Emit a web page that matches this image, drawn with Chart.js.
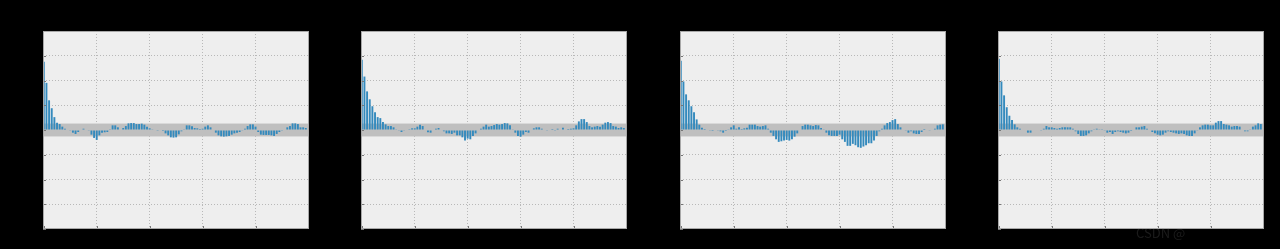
<!DOCTYPE html>
<html>
<head>
<meta charset="utf-8">
<script src="https://cdn.jsdelivr.net/npm/chart.js@4/dist/chart.umd.min.js"></script>
<style>
  html, body { margin: 0; padding: 0; background: #000; }
  #wrap { position: relative; width: 1280px; height: 249px; overflow: hidden; background: #000; }
  #wrap canvas { position: absolute; top: 0; }
  #mark { position: absolute; left: 1136px; top: 223px; font: 13px "Noto Sans CJK SC", "DejaVu Sans", sans-serif;
          color: rgba(150,150,150,0.18); white-space: nowrap; }
</style>
</head>
<body>
<div id="wrap">
  <canvas id="c1" width="316" height="249" style="left:3px"></canvas>
  <canvas id="c2" width="316" height="249" style="left:321px"></canvas>
  <canvas id="c3" width="316" height="249" style="left:640px"></canvas>
  <canvas id="c4" width="316" height="249" style="left:958px"></canvas>
  <div id="mark">CSDN @</div>
</div>
<script>
// lags 0..99 (lag 0 bar sits on the left limit)
const lags = Array.from({length: 100}, (_, i) => i);
const xTicks = [0, 20, 40, 60, 80, 100];
const yTicks = [-1, -0.75, -0.5, -0.25, 0, 0.25, 0.5, 0.75, 1];
const confLimit = 0.065;

const acf1 = [
  0.69, 0.476, 0.30, 0.22, 0.13, 0.074, 0.06, 0.034, 0.013, -0.005,
  -0.007, -0.027, -0.04, -0.02, 0.0, 0.013, 0.0, -0.003, -0.047, -0.08,
  -0.10, -0.054, -0.027, -0.023, -0.02, 0.007, 0.047, 0.047, 0.027, 0.0,
  0.02, 0.04, 0.067, 0.07, 0.07, 0.06, 0.06, 0.064, 0.054, 0.034,
  0.017, 0.003, 0.0, -0.002, 0.0, -0.01, -0.034, -0.054, -0.074, -0.077,
  -0.074, -0.044, -0.013, 0.007, 0.047, 0.047, 0.037, 0.02, 0.017, 0.01,
  0.013, 0.034, 0.047, 0.027, 0.0, -0.027, -0.054, -0.064, -0.067, -0.064,
  -0.06, -0.047, -0.034, -0.027, -0.02, -0.007, 0.013, 0.04, 0.057, 0.057,
  0.034, -0.02, -0.047, -0.05, -0.05, -0.05, -0.054, -0.06, -0.04, -0.02,
  -0.007, 0.0, 0.027, 0.04, 0.067, 0.067, 0.06, 0.027, 0.027, 0.02
];
const acf2 = [
  0.71, 0.54, 0.39, 0.31, 0.24, 0.18, 0.13, 0.12, 0.08, 0.057,
  0.04, 0.04, 0.027, 0.007, -0.007, -0.02, -0.007, 0.0, 0.002, 0.017,
  0.017, 0.034, 0.054, 0.04, 0.0, -0.023, -0.027, 0.0, 0.013, 0.02,
  0.0, -0.013, -0.034, -0.034, -0.04, -0.027, -0.054, -0.054, -0.074, -0.107,
  -0.087, -0.094, -0.06, -0.034, 0.0, 0.013, 0.034, 0.054, 0.034, 0.04,
  0.05, 0.06, 0.054, 0.06, 0.07, 0.067, 0.047, 0.007, -0.027, -0.06,
  -0.067, -0.047, -0.02, -0.027, 0.0, 0.017, 0.027, 0.027, 0.013, 0.0,
  -0.003, 0.0, 0.01, -0.003, 0.013, 0.0, 0.023, 0.0, 0.01, 0.013,
  0.017, 0.047, 0.087, 0.11, 0.11, 0.08, 0.04, 0.027, 0.034, 0.04,
  0.034, 0.054, 0.074, 0.08, 0.07, 0.04, 0.034, 0.02, 0.027, 0.02
];
const acf3 = [
  0.70, 0.49, 0.36, 0.30, 0.24, 0.18, 0.107, 0.054, 0.023, 0.01,
  0.0, -0.007, -0.01, 0.0, -0.007, -0.013, -0.027, -0.01, 0.007, 0.027,
  0.047, 0.013, 0.027, 0.01, 0.017, 0.023, 0.054, 0.054, 0.054, 0.04,
  0.034, 0.04, 0.047, 0.013, -0.027, -0.06, -0.094, -0.12, -0.114, -0.107,
  -0.10, -0.107, -0.094, -0.067, -0.034, 0.0, 0.04, 0.054, 0.054, 0.047,
  0.04, 0.05, 0.047, 0.02, 0.007, -0.027, -0.054, -0.06, -0.06, -0.06,
  -0.047, -0.094, -0.12, -0.16, -0.16, -0.14, -0.154, -0.174, -0.18, -0.167,
  -0.154, -0.134, -0.134, -0.107, -0.06, -0.013, 0.013, 0.047, 0.07, 0.08,
  0.10, 0.11, 0.06, 0.027, 0.0, -0.007, -0.027, -0.013, -0.034, -0.04,
  -0.04, -0.02, 0.01, 0.0, -0.007, 0.0, 0.013, 0.047, 0.054, 0.057
];
const acf4 = [
  0.72, 0.49, 0.35, 0.23, 0.144, 0.10, 0.057, 0.027, 0.013, 0.0,
  0.0, -0.027, -0.027, 0.0, 0.0, 0.0, -0.003, 0.013, 0.04, 0.027,
  0.027, 0.02, 0.013, 0.02, 0.027, 0.027, 0.027, 0.027, 0.013, -0.013,
  -0.04, -0.06, -0.06, -0.054, -0.034, -0.013, 0.007, 0.013, 0.007, 0.007,
  -0.007, -0.027, -0.02, -0.04, -0.02, -0.013, -0.02, -0.027, -0.034, -0.027,
  -0.01, 0.0, 0.027, 0.027, 0.034, 0.04, 0.013, 0.0, -0.02, -0.034,
  -0.047, -0.054, -0.047, -0.027, -0.013, -0.02, -0.027, -0.034, -0.04, -0.034,
  -0.04, -0.054, -0.06, -0.06, -0.034, -0.007, 0.027, 0.047, 0.054, 0.054,
  0.047, 0.047, 0.074, 0.09, 0.09, 0.06, 0.054, 0.047, 0.034, 0.04,
  0.04, 0.034, 0.0, -0.013, -0.013, 0.007, 0.034, 0.047, 0.067, 0.06
];

// axes background, confidence band, frame and inner tick marks
const axesDeco = {
    id: 'axesDeco',
    beforeDraw(chart) {
        const {ctx, chartArea: a} = chart;
        ctx.save();
        ctx.fillStyle = '#eeeeee';
        ctx.fillRect(a.left, a.top, a.right - a.left, a.bottom - a.top);
        ctx.restore();
    },
    beforeDatasetsDraw(chart) {
        const {ctx, chartArea: a, scales} = chart;
        const y1 = scales.y.getPixelForValue(confLimit);
        const y2 = scales.y.getPixelForValue(-confLimit);
        ctx.save();
        ctx.fillStyle = '#bfbfbf';
        ctx.fillRect(a.left, y1, a.right - a.left, y2 - y1);
        ctx.restore();
    },
    afterDraw(chart) {
        const {ctx, chartArea: a, scales} = chart;
        ctx.save();
        ctx.strokeStyle = '#777777';
        ctx.lineWidth = 1;
        ctx.beginPath();
        yTicks.forEach(v => {
            const p = Math.round(scales.y.getPixelForValue(v)) + 0.5;
            ctx.moveTo(a.left, p); ctx.lineTo(a.left + 3, p);
        });
        xTicks.forEach(v => {
            const p = Math.round(scales.x.getPixelForValue(v)) + 0.5;
            if (p > a.right) return;
            ctx.moveTo(p, a.bottom); ctx.lineTo(p, a.bottom - 3);
        });
        ctx.stroke();
        ctx.strokeStyle = '#a8a8a8';
        ctx.strokeRect(a.left + 0.5, a.top + 0.5, a.right - a.left - 1, a.bottom - a.top - 1);
        ctx.restore();
    }
};

// edge grid lines are hidden under the frame
const innerGrid = (lo, hi) => c => (c.tick && (c.tick.value <= lo || c.tick.value >= hi)) ? 'rgba(0,0,0,0)' : '#b8b8b8';

function makeAcfChart(id, values) {
    const ctx = document.getElementById(id).getContext('2d');
    return new Chart(ctx, {
        type: 'bar',
        data: {
            datasets: [{
                data: lags.map((l, i) => ({x: l, y: values[i]})),
                backgroundColor: '#348ABD',
                borderWidth: 0,
                categoryPercentage: 1.0,
                barPercentage: 0.72
            }]
        },
        options: {
            responsive: false,
            animation: false,
            devicePixelRatio: 1,
            layout: { padding: { top: 31, right: 10, left: 0, bottom: 0 } },
            plugins: { legend: { display: false }, tooltip: { enabled: false } },
            scales: {
                x: {
                    type: 'linear', min: -0.3, max: 100.2, offset: false,
                    afterBuildTicks: s => { s.ticks = xTicks.map(v => ({value: v})); },
                    afterFit: s => { s.height = 20; s.paddingLeft = 0; s.paddingRight = 0; },
                    grid: { color: innerGrid(0, 100), lineWidth: 1, drawTicks: false, offset: false },
                    border: { display: false, dash: [1, 2] },
                    ticks: { color: '#000', font: { family: 'DejaVu Sans', size: 10 }, padding: 4, maxRotation: 0 }
                },
                y: {
                    min: -1, max: 1,
                    afterBuildTicks: s => { s.ticks = yTicks.map(v => ({value: v})); },
                    afterFit: s => { s.width = 40; s.paddingTop = 0; s.paddingBottom = 0; },
                    grid: { color: innerGrid(-1, 1), lineWidth: 1, drawTicks: false },
                    border: { display: false, dash: [1, 2] },
                    ticks: { color: '#000', font: { family: 'DejaVu Sans', size: 10 }, padding: 4,
                             callback: v => Number(v).toFixed(2) }
                }
            }
        },
        plugins: [axesDeco]
    });
}

makeAcfChart('c1', acf1);
makeAcfChart('c2', acf2);
makeAcfChart('c3', acf3);
makeAcfChart('c4', acf4);
</script>
</body>
</html>
